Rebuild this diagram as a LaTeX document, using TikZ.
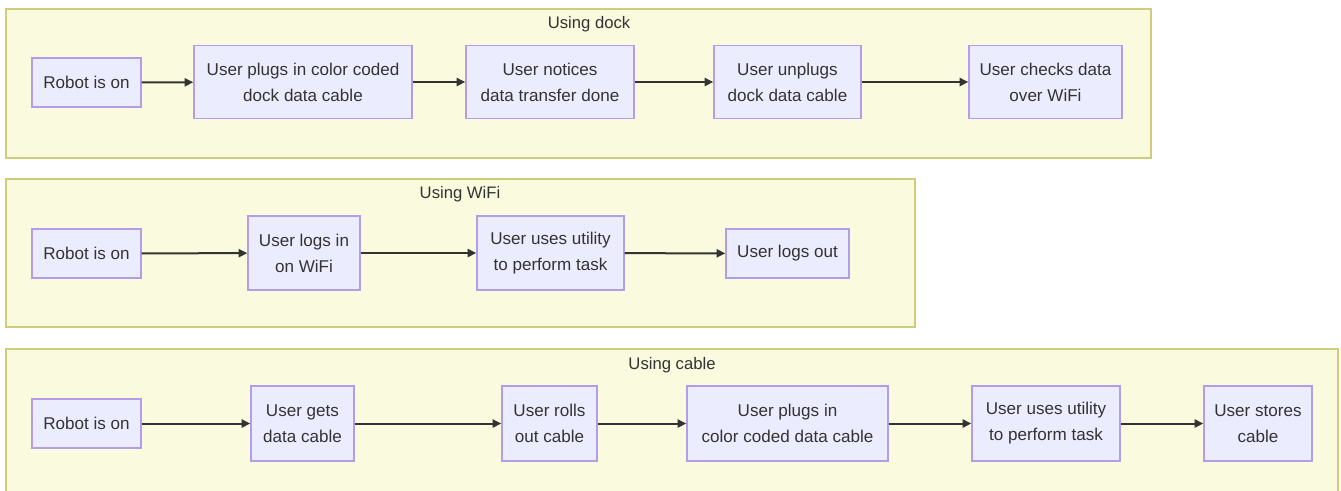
\documentclass[tikz,border=0pt]{standalone}
\usepackage{fontspec}
\setmainfont{Liberation Sans}
\usetikzlibrary{arrows.meta}

\definecolor{clusterfill}{HTML}{FAFADE}
\definecolor{clusterline}{HTML}{CDCD7A}
\definecolor{nodefill}{HTML}{ECECFF}
\definecolor{nodeline}{HTML}{B39DE8}
\definecolor{edgeline}{HTML}{333333}

\begin{document}
\begin{tikzpicture}[x=0.75pt,y=-0.75pt,
    cluster/.style={draw=clusterline,fill=clusterfill,line width=1pt},
    title/.style={font=\fontsize{12.5}{19.5}\selectfont,text=edgeline},
    box/.style 2 args={draw=nodeline,fill=nodefill,line width=1pt,align=center,inner sep=0pt,
        font=\fontsize{12.8}{19.5}\selectfont,text=edgeline,
        minimum width=#1*0.75pt,minimum height=#2*0.75pt},
    flow/.style={draw=edgeline,line width=1.5pt,-{Triangle[length=6.5pt,width=6pt]}}]
\useasboundingbox (0,0) rectangle (1341,490);
% the three groups
\draw[cluster] (6,9) rectangle (1151,158);
\draw[cluster] (6,179) rectangle (915,327);
\draw[cluster] (6,349) rectangle (1338,500);
\node[title] (tdock) at (589,24) {Using dock};
\node[title] (twifi) at (460,194) {Using WiFi};
\node[title] (tcable) at (672,365) {Using cable};
% dock
\node[box={109}{49}] (d1) at (86.5,82.5) {Robot is on};
\node[box={218}{73}] (d2) at (303,82) {User plugs in color coded\\dock data cable};
\node[box={168}{73}] (d3) at (550,82) {User notices\\data transfer done};
\node[box={147}{73}] (d4) at (787.5,82) {User unplugs\\dock data cable};
\node[box={153}{73}] (d5) at (1045.5,82) {User checks data\\over WiFi};
% wifi
\node[box={109}{49}] (w1) at (86.5,253.5) {Robot is on};
\node[box={112}{74}] (w2) at (304,253) {User logs in\\on WiFi};
\node[box={147}{74}] (w3) at (550.5,253) {User uses utility\\to perform task};
\node[box={123}{49}] (w4) at (787.5,253.5) {User logs out};
% cable
\node[box={109}{49}] (c1) at (86.5,423.5) {Robot is on};
\node[box={103}{75}] (c2) at (302.5,423.5) {User gets\\data cable};
\node[box={95}{75}] (c3) at (549.5,423.5) {User rolls\\out cable};
\node[box={201}{75}] (c4) at (787.5,423.5) {User plugs in\\color coded data cable};
\node[box={148}{75}] (c5) at (1046,423.5) {User uses utility\\to perform task};
\node[box={108}{75}] (c6) at (1258,423.5) {User stores\\cable};
\foreach \a/\b in {d1/d2,d2/d3,d3/d4,d4/d5,w1/w2,w2/w3,w3/w4,c1/c2,c2/c3,c3/c4,c4/c5,c5/c6}{
    \draw[flow] (\a) -- (\b);
}
\end{tikzpicture}
\end{document}
